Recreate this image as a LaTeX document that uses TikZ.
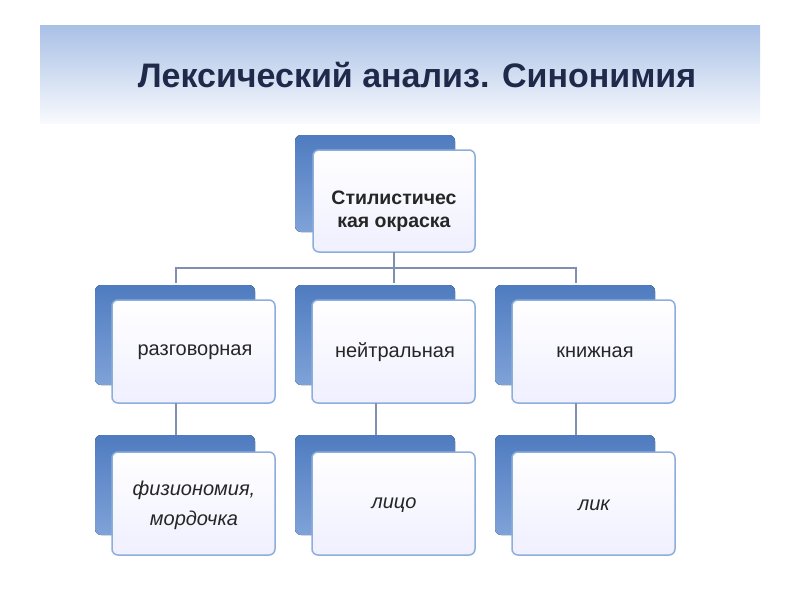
\documentclass[tikz,border=0pt]{standalone}
\usepackage{fontspec}
\setmainfont{Liberation Sans}
\begin{document}
\begin{tikzpicture}[x=1pt,y=-1pt]
\definecolor{bk}{HTML}{4F7CC0}
\definecolor{bk2}{HTML}{7FA2D8}
\definecolor{fr}{HTML}{8DAEDC}
\definecolor{ban}{HTML}{A9C0E6}
\definecolor{ttl}{HTML}{1F2A4A}
\definecolor{cn}{HTML}{7F8FB0}
\tikzset{back/.style={rounded corners=6pt,top color=bk,bottom color=bk2,draw=none},
  front/.style={rounded corners=6pt,top color=white,bottom color=blue!6!white,draw=fr,line width=1.5pt},
  lbl/.style={font=\fontsize{20}{24}\selectfont,align=center,text=black!85},
  conn/.style={draw=cn,line width=1.3pt}}
\useasboundingbox[fill=white] (0,0) rectangle (800,600);
% banner
\shade[top color=ban,bottom color=ban!8!white] (40,25) rectangle (760,123);
\node[font=\fontsize{34}{38}\selectfont\bfseries,text=ttl] (title) at (417,75) {Лексический анализ. Синонимия};
% top
\fill[back] (295,135) rectangle (455,232);
\path[front] (313,150) rectangle (475,252);
\node[lbl,font=\fontsize{19.5}{23}\selectfont\bfseries] (top) at (394,211) {Стилистичес\\кая окраска};
\coordinate (tb) at (394,252);
% connectors
\coordinate (h) at (394,268);
\draw[conn] (tb) -- (h);
\draw[conn] (176,283) -- (176,268) -- (576,268) -- (576,283);
\draw[conn] (h) -- (394,283);
\foreach \x/\t/\u/\n in {95/разговорная/{физиономия,\\мордочка}/a,295/нейтральная/лицо/b,495/книжная/лик/c}{
  \fill[back] (\x,285) rectangle (\x+160,385);
  \path[front] (\x+17,300) rectangle (\x+180,403);
  \node[lbl] (m\n) at (\x+100,352) {\t};
  \draw[conn] (\x+81,403) -- (\x+81,435);
  \fill[back] (\x,435) rectangle (\x+160,535);
  \path[front] (\x+17,452) rectangle (\x+180,555);
  \node[lbl,font=\fontsize{20}{30}\selectfont\itshape] (b\n) at (\x+99,505) {\u};
}
\end{tikzpicture}
\end{document}
